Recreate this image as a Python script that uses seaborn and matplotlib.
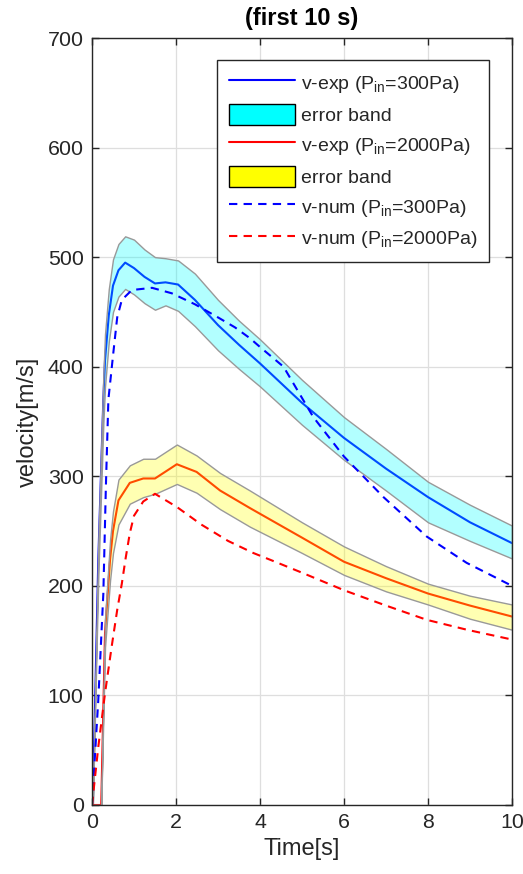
import numpy as np
import pandas as pd
import matplotlib
matplotlib.use("Agg")
import matplotlib.pyplot as plt
import seaborn as sns
from matplotlib.lines import Line2D
from matplotlib.patches import Patch

# ---------------- data ----------------
t_exp300 = [0.02, 0.15, 0.27, 0.31, 0.40, 0.50, 0.63, 0.79, 1.0, 1.25, 1.5, 1.75, 2.05, 2.45,
            3.0, 3.5, 4.0, 5.0, 6.0, 7.0, 8.0, 9.0, 10.0]
v_exp300 = [0, 224, 370, 406, 447, 474, 488, 495, 490, 482, 476, 477, 475, 461,
            438, 420, 403, 367, 335, 307, 281, 258, 239]
up_exp300 = [0, 240, 392, 430, 471, 498, 512, 519, 516, 507, 500, 499, 497, 485,
             461, 442, 425, 388, 354, 325, 295, 274, 255]
lo_exp300 = [0, 208, 348, 382, 423, 450, 464, 471, 466, 458, 452, 456, 451, 437,
             415, 398, 382, 347, 315, 287, 258, 241, 225]

t_exp2000 = [0, 0.22, 0.31, 0.43, 0.50, 0.63, 0.90, 1.22, 1.5, 2.02, 2.49, 3.05, 3.76,
             5.0, 6.0, 7.0, 8.0, 9.0, 10.0]
v_exp2000 = [0, 0, 157, 224, 250, 278, 294, 298, 298, 311, 304, 287, 271,
             244, 222, 207, 193, 182, 172]
up_exp2000 = [0, 0, 170, 242, 268, 297, 310, 316, 316, 329, 319, 303, 287,
              258, 236, 218, 202, 191, 183]
lo_exp2000 = [0, 0, 144, 205, 230, 256, 275, 281, 284, 293, 285, 270, 254,
              230, 210, 195, 183, 170, 160]

t_num300 = [0, 0.15, 0.27, 0.33, 0.39, 0.50, 0.60, 0.71, 0.95, 1.43, 1.9, 2.45, 3.0,
            3.4, 3.76, 4.0, 4.56, 5.27, 6.0, 6.94, 7.97, 8.92, 10.0]
v_num300 = [0, 96, 193, 290, 370, 410, 445, 461, 470, 472, 467, 457, 445,
            436, 426, 418, 400, 354, 318, 281, 245, 221, 200]

t_num2000 = [0, 0.15, 0.31, 0.47, 0.60, 0.71, 0.80, 0.90, 1.0, 1.22, 1.5, 2.02, 2.6,
             3.24, 3.84, 4.36, 5.0, 6.0, 7.0, 7.97, 8.92, 10.0]
v_num2000 = [0, 53, 102, 145, 178, 202, 225, 248, 264, 277, 284, 272, 256,
             241, 230, 222, 212, 196, 182, 169, 160, 151]

legend_labels = [r"v-exp (P$_{\mathregular{in}}$=300Pa)", "error band",
                 r"v-exp (P$_{\mathregular{in}}$=2000Pa)", "error band",
                 r"v-num (P$_{\mathregular{in}}$=300Pa)", r"v-num (P$_{\mathregular{in}}$=2000Pa)"]
x_ticks = [0, 2, 4, 6, 8, 10]
y_ticks = [0, 100, 200, 300, 400, 500, 600, 700]

# ---------------- style ----------------
sns.set_style("white")
plt.rcParams["font.family"] = ["Liberation Sans", "DejaVu Sans"]
plt.rcParams["mathtext.default"] = "regular"
dark = "#262626"

fig = plt.figure(figsize=(5.23, 8.74), dpi=100)
ax = fig.add_axes([92 / 523, 69 / 874, 420 / 523, 767 / 874])

df_e3 = pd.DataFrame({"t": t_exp300, "v": v_exp300})
df_e2 = pd.DataFrame({"t": t_exp2000, "v": v_exp2000})
df_n3 = pd.DataFrame({"t": t_num300, "v": v_num300})
df_n2 = pd.DataFrame({"t": t_num2000, "v": v_num2000})

lw = 1.5
band_edge = "#999999"
sns.lineplot(data=df_e3, x="t", y="v", color="blue", lw=lw, estimator=None, sort=False,
             ax=ax, zorder=2.0)
ax.fill_between(t_exp300, lo_exp300, up_exp300, facecolor=(0, 1, 1, 0.3),
                edgecolor=band_edge, linewidth=1.0, zorder=2.1)
sns.lineplot(data=df_e2, x="t", y="v", color="red", lw=lw, estimator=None, sort=False,
             ax=ax, zorder=2.2)
ax.fill_between(t_exp2000, lo_exp2000, up_exp2000, facecolor=(1, 1, 0, 0.3),
                edgecolor=band_edge, linewidth=1.0, zorder=2.3)
sns.lineplot(data=df_n3, x="t", y="v", color="blue", lw=lw, estimator=None, sort=False,
             ax=ax, zorder=2.4)
ax.lines[-1].set_dashes((4, 3))
sns.lineplot(data=df_n2, x="t", y="v", color="red", lw=lw, estimator=None, sort=False,
             ax=ax, zorder=2.5)
ax.lines[-1].set_dashes((4, 3))

ax.set_xlim(0, 10)
ax.set_ylim(0, 700)
ax.set_xticks(x_ticks)
ax.set_yticks(y_ticks)
ax.grid(True, color="#dedede", lw=0.9)
ax.set_axisbelow(True)
for s in ax.spines.values():
    s.set_visible(True)
    s.set_color(dark)
    s.set_linewidth(1.0)
    s.set_zorder(3)
ax.tick_params(direction="in", length=5, width=1, colors=dark, labelsize=15.4,
               top=True, right=True, bottom=True, left=True, pad=6)
ax.set_xlabel("Time[s]", fontsize=17, color=dark, labelpad=4)
ax.set_ylabel("velocity[m/s]", fontsize=17, color=dark, labelpad=6)
ax.set_title("(first 10 s)", fontsize=17, fontweight="bold", color="black", pad=9)

handles = [Line2D([], [], color="blue", lw=lw),
           Patch(facecolor="cyan", edgecolor="black", lw=1),
           Line2D([], [], color="red", lw=lw),
           Patch(facecolor="yellow", edgecolor="black", lw=1),
           Line2D([], [], color="blue", lw=lw, dashes=(4, 3)),
           Line2D([], [], color="red", lw=lw, dashes=(4, 3))]
leg = ax.legend(handles, legend_labels, loc="upper right", bbox_to_anchor=(0.945, 0.971),
                borderaxespad=0, fontsize=14, handlelength=3.4, handleheight=1.3,
                handletextpad=0.3, labelspacing=0.45, borderpad=0.6,
                frameon=True, fancybox=False, framealpha=1, edgecolor=dark)
leg.get_frame().set_linewidth(1.0)
leg.set_zorder(5)

fig.savefig("out.png", dpi=100)
